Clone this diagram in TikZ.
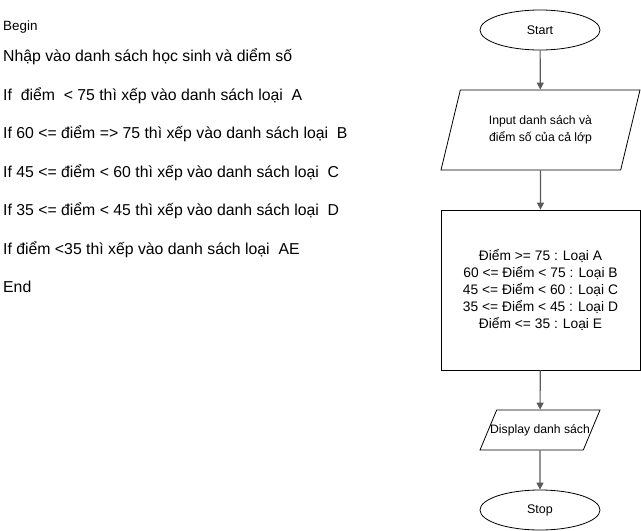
\documentclass[tikz,border=0pt]{standalone}
\usepackage{fontspec}
\setmainfont{Liberation Sans}
\usetikzlibrary{shapes.geometric,arrows.meta}
\definecolor{linkgray}{HTML}{5A5A5A}

\begin{document}
\begin{tikzpicture}[
		x=1pt, y=-1pt,
		terminal/.style={draw, ellipse, line width=0.8pt, minimum width=120pt, minimum height=40pt, inner sep=0pt, font=\fontsize{12.5}{14}\selectfont},
		io/.style={draw, trapezium, trapezium stretches body=true, line width=0.8pt, inner xsep=0pt, font=\fontsize{12.2}{17}\selectfont},
		process/.style={draw, rectangle, line width=0.8pt, minimum width=199pt, minimum height=160pt, inner sep=0pt, align=center, font=\fontsize{13.8}{16.8}\selectfont},
		step line/.style={anchor=base west, inner sep=0pt, font=\fontsize{15.8}{18}\selectfont},
		link/.style={-{Triangle[length=7pt,width=7pt]}, line width=1.2pt, color=linkgray},
		]
		\useasboundingbox (0,0) rectangle (641,531);
		
		%pseudocode
		\node[step line, font=\fontsize{13.4}{15}\selectfont] (begin) at (3,30) {Begin};
		\node[step line] (s1) at (3,61) {Nhập vào danh sách học sinh và diểm số};
		\node[step line] (s2) at (3,100) {If\ \ điểm\ \ < 75 thì xếp vào danh sách loại\ \ A};
		\node[step line] (s3) at (3,138) {If 60 <= điểm => 75 thì xếp vào danh sách loại\ \ B};
		\node[step line] (s4) at (3,177) {If 45 <= điểm < 60 thì xếp vào danh sách loại\ \ C};
		\node[step line] (s5) at (3,215) {If 35 <= điểm < 45 thì xếp vào danh sách loại\ \ D};
		\node[step line] (s6) at (3,254) {If điểm <35 thì xếp vào danh sách loại\ \ AE};
		\node[step line] (end) at (3,292) {End};
		
		%flowchart
		\node[terminal] (start) at (540,30) {Start};
		\node[io, trapezium left angle=76, trapezium right angle=104, inner ysep=24.5pt, minimum width=199pt, minimum height=80pt, align=center] (input) at (540.5,130) {Input danh sách và\\điểm số của cả lớp};
		\node[process] (classify) at (540.5,290) {Điểm >= 75 : Loại A\\60 <= Điểm < 75 : Loại B\\45 <= Điểm < 60 : Loại C\\35 <= Điểm < 45 : Loại D\\Điểm <= 35 : Loại E};
		\node[io, trapezium left angle=66, trapezium right angle=114, inner ysep=13pt, minimum width=120pt, minimum height=40pt] (display) at (540,430) {\makebox[84pt][c]{Display danh sách}};
		\node[terminal] (stop) at (540,510) {Stop};
		
		%arrows
		\draw[link] (start) -- (input);
		\draw[link] (input) -- (classify);
		\draw[link] (classify) -- (display);
		\draw[link] (display) -- (stop);
	\end{tikzpicture}
\end{document}
